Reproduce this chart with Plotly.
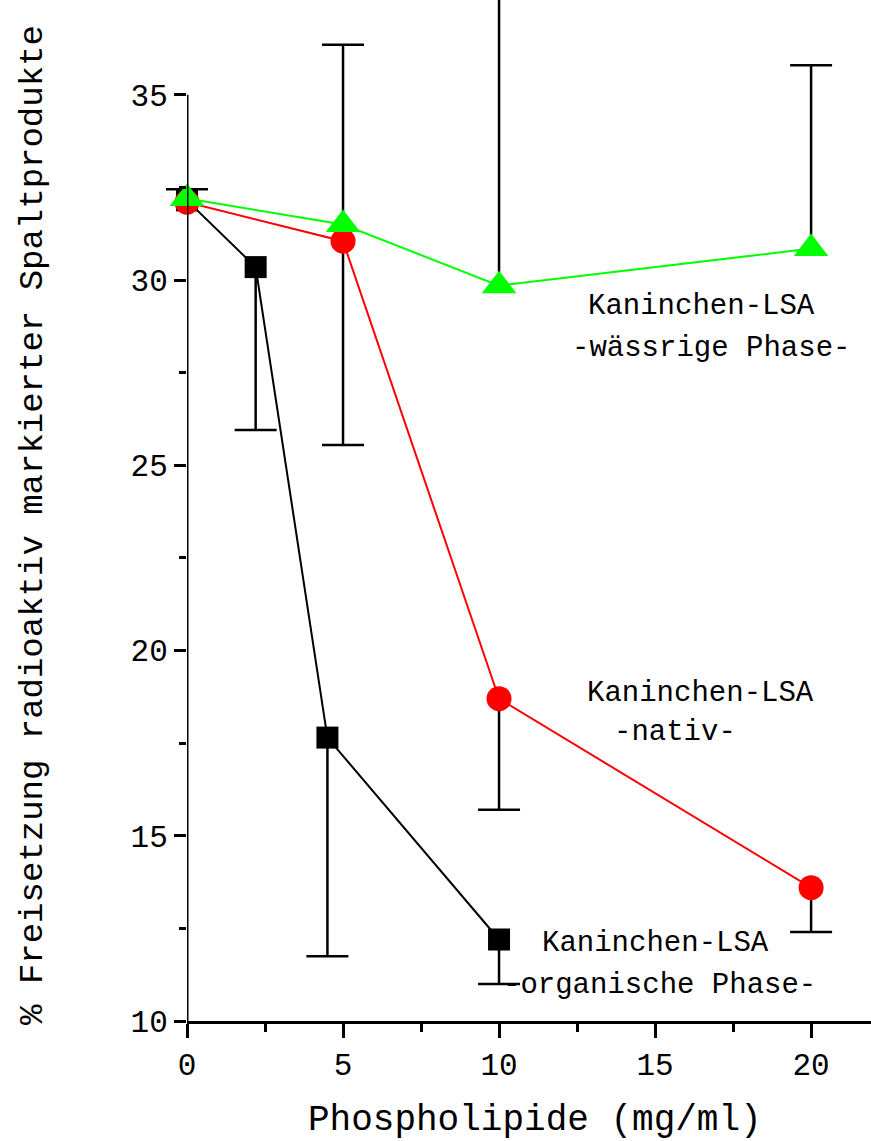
import plotly.graph_objects as go

# ---- data ----
x_org = [0, 2.2, 4.5, 10]
y_org = [32.15, 30.35, 17.65, 12.2]
err_org_plus = [0.3, None, None, None]
err_org_minus = [None, 4.4, 5.9, 1.2]

x_nat = [0, 5, 10, 20]
y_nat = [32.1, 31.05, 18.7, 13.6]
err_nat_plus = [None, None, None, None]
err_nat_minus = [None, 5.5, 3.0, 1.2]

x_aq = [0, 5, 10, 20]
y_aq = [32.2, 31.5, 29.85, 30.85]
err_aq_plus = [None, 4.85, 9.0, 4.95]
err_aq_minus = [None, None, None, None]

x_ticks = [0, 5, 10, 15, 20]
x_minor = [2.5, 7.5, 12.5, 17.5]
y_ticks = [10, 15, 20, 25, 30, 35]
y_minor = [12.5, 17.5, 22.5, 27.5, 32.5]

FONT = "Liberation Mono"

fig = go.Figure()

def add_err(x, y, e, up):
    idx = [i for i, v in enumerate(e) if v is not None]
    if not idx:
        return
    xs = [x[i] for i in idx]
    ys = [y[i] for i in idx]
    es = [e[i] for i in idx]
    zeros = [0] * len(idx)
    # vertical bar (no caps)
    fig.add_trace(go.Scatter(
        x=xs, y=ys, mode="markers",
        marker=dict(size=1, color="rgba(0,0,0,0)"),
        error_y=dict(type="data", symmetric=False,
                     array=es if up else zeros,
                     arrayminus=zeros if up else es,
                     color="black", thickness=2.5, width=0),
        cliponaxis=False, showlegend=False, hoverinfo="skip",
    ))
    # cap only at the outer end
    ends = [yy + ee if up else yy - ee for yy, ee in zip(ys, es)]
    fig.add_trace(go.Scatter(
        x=xs, y=ends, mode="markers",
        marker=dict(symbol="line-ew", size=30,
                    line=dict(color="black", width=2.5)),
        cliponaxis=False, showlegend=False, hoverinfo="skip",
    ))

def add_series(x, y, ep, em, color, symbol, size):
    add_err(x, y, ep, True)
    add_err(x, y, em, False)
    fig.add_trace(go.Scatter(
        x=x, y=y, mode="lines+markers",
        line=dict(color=color, width=2),
        marker=dict(color=color, symbol=symbol, size=size, line=dict(width=0)),
        cliponaxis=False, showlegend=False,
    ))

add_series(x_org, y_org, err_org_plus, err_org_minus, "black", "square", 22)
add_series(x_nat, y_nat, err_nat_plus, err_nat_minus, "#ff0000", "circle", 25)
add_series(x_aq, y_aq, err_aq_plus, err_aq_minus, "#00ff00", "triangle-up", 30)

# y axis line only up to 35
fig.add_shape(type="line", xref="x", yref="y", x0=0, x1=0, y0=10, y1=35,
              line=dict(color="black", width=3), layer="above")

ann_font = dict(family=FONT, size=29, color="black")
labels = [
    (16.5, 29.3, "Kaninchen-LSA"),
    (16.8, 28.15, "-wässrige Phase-"),
    (16.45, 18.85, "Kaninchen-LSA"),
    (15.65, 17.8, "-nativ-"),
    (15.0, 12.1, "Kaninchen-LSA"),
    (15.15, 10.95, "-organische Phase-"),
]
for ax_, ay_, t in labels:
    fig.add_annotation(x=ax_, y=ay_, xref="x", yref="y", text=t, showarrow=False,
                       font=ann_font, xanchor="center", yanchor="middle")

fig.add_annotation(x=-0.225, y=0.486, xref="paper", yref="paper",
                   text="% Freisetzung radioaktiv markierter Spaltprodukte",
                   textangle=-90, showarrow=False,
                   font=dict(family=FONT, size=34, color="black"),
                   xanchor="center", yanchor="middle")
fig.add_annotation(x=0.509, y=-0.097, xref="paper", yref="paper",
                   text="Phospholipide (mg/ml)", showarrow=False,
                   font=dict(family=FONT, size=36, color="black"),
                   xanchor="center", yanchor="middle")

fig.update_layout(
    width=871, height=1141,
    margin=dict(l=187, r=0, t=0, b=120),
    plot_bgcolor="white", paper_bgcolor="white",
    xaxis=dict(range=[0, 21.92], showgrid=False, zeroline=False,
               showline=True, linecolor="black", linewidth=3,
               ticks="outside", ticklen=14, tickwidth=2.5, tickcolor="black",
               tickmode="array", tickvals=x_ticks,
               ticktext=[str(v) for v in x_ticks],
               tickfont=dict(family=FONT, size=31, color="black"),
               minor=dict(tickmode="array", tickvals=x_minor, ticks="outside",
                          ticklen=8, tickwidth=2.5, tickcolor="black", showgrid=False)),
    yaxis=dict(range=[10, 37.56], showgrid=False, zeroline=False,
               showline=False,
               ticks="outside", ticklen=12, tickwidth=2.5, tickcolor="black",
               tickmode="array", tickvals=y_ticks,
               ticktext=[str(v) for v in y_ticks],
               tickfont=dict(family=FONT, size=31, color="black"),
               minor=dict(tickmode="array", tickvals=y_minor, ticks="outside",
                          ticklen=7, tickwidth=2.5, tickcolor="black", showgrid=False)),
)

fig.write_html("out.html")
